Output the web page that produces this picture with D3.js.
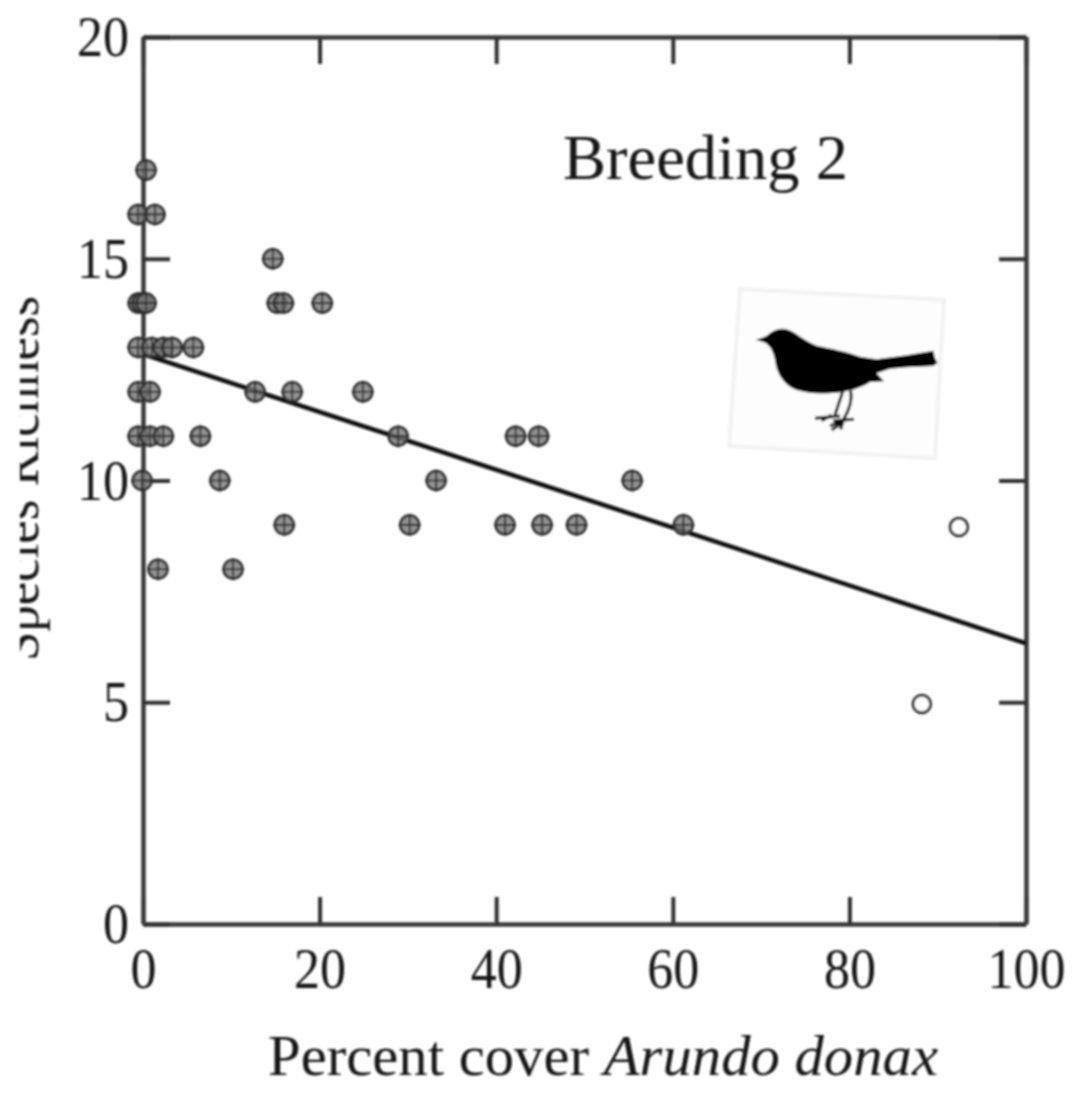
<!DOCTYPE html>
<html>
<head>
<meta charset="utf-8">
<script src="https://cdn.jsdelivr.net/npm/d3@7"></script>
<style>
  html, body { margin: 0; background: #fff; }
  text { font-family: "Liberation Serif", serif; fill: #141414; }
</style>
</head>
<body>
<div id="chart"></div>
<script>
// values
const coverFilled = [0.35, -0.55, 1.35, 14.7, -0.55, -0.1, 0.35, 15.2, 15.9, 20.3, -0.55, 1, 2.3, 3.3, 5.7, -0.55, 0.8, 12.7, 16.9, 24.9,
                     -0.55, 0.8, 2.3, 6.5, 28.9, 42.2, 44.8, -0.1, 8.7, 33.2, 55.4, 16, 30.2, 41, 45.2, 49.1, 61.2, 1.7, 10.2];
const richFilled  = [17, 16, 16, 15, 14, 14, 14, 14, 14, 14, 13, 13, 13, 13, 13, 12, 12, 12, 12, 12,
                     11, 11, 11, 11, 11, 11, 11, 10, 10, 10, 10, 9, 9, 9, 9, 9, 9, 8, 8];
const coverOpen = [92.4, 88.2];
const richOpen  = [8.95, 4.96];
const fitX = [0, 100];
const fitY = [12.85, 6.33];
const xTicks = [0, 20, 40, 60, 80, 100];
const yTicks = [0, 5, 10, 15, 20];

const width = 1076, height = 1095;
const margin = {top: 37, right: 50, bottom: 171, left: 143};

const svg = d3.select("#chart").append("svg")
    .attr("width", width)
    .attr("height", height)
    .style("display", "block");

// the reference is a soft scan
const defs = svg.append("defs");
defs.append("filter").attr("id", "soft")
    .append("feGaussianBlur").attr("stdDeviation", 0.8);
defs.append("filter").attr("id", "softer")
    .append("feGaussianBlur").attr("stdDeviation", 1.2);
defs.append("clipPath").attr("id", "labelClip")
    .append("rect").attr("x", 20).attr("y", 0).attr("width", 200).attr("height", height);

const root = svg.append("g").attr("filter", "url(#soft)");

let x = d3.scaleLinear().domain([0, 100]).range([margin.left, width - margin.right]);
let y = d3.scaleLinear().domain([0, 20]).range([height - margin.bottom, margin.top]);

// frame, ticks point inwards on all four sides
function styleAxis(g) {
    g.selectAll(".domain").attr("stroke", "#3a3a3a").attr("stroke-width", 4.5);
    g.selectAll(".tick line").attr("stroke", "#333").attr("stroke-width", 4);
    // digits are taller and narrower than the plain font
    g.selectAll(".tick text")
        .style("font-size", "58px")
        .attr("textLength", d => String(d).length * 26)
        .attr("lengthAdjust", "spacingAndGlyphs");
    g.attr("font-family", null);
}

root.append("g")
    .attr("transform", `translate(0, ${y(0)})`)
    .call(d3.axisBottom(x).tickValues(xTicks).tickSizeInner(-27).tickSizeOuter(0).tickPadding(23))
    .call(styleAxis);
root.append("g")
    .attr("transform", `translate(0, ${y(20)})`)
    .call(d3.axisTop(x).tickValues(xTicks).tickSizeInner(-27).tickSizeOuter(0).tickFormat(""))
    .call(styleAxis);
root.append("g")
    .attr("transform", `translate(${x(0)}, 0)`)
    .call(d3.axisLeft(y).tickValues(yTicks).tickSizeInner(-27).tickSizeOuter(0).tickPadding(14))
    .call(styleAxis);
root.append("g")
    .attr("transform", `translate(${x(100)}, 0)`)
    .call(d3.axisRight(y).tickValues(yTicks).tickSizeInner(-27).tickSizeOuter(0).tickFormat(""))
    .call(styleAxis);

// regression line
root.append("line")
    .attr("x1", x(fitX[0])).attr("y1", y(fitY[0]))
    .attr("x2", x(fitX[1])).attr("y2", y(fitY[1]))
    .attr("stroke", "#0c0c0c")
    .attr("stroke-width", 4.5);

// filled points with a cross through them
const filled = root.append("g").selectAll("g")
    .data(d3.range(coverFilled.length))
    .enter().append("g")
    .attr("transform", i => `translate(${x(coverFilled[i])}, ${y(richFilled[i])})`);
filled.append("circle")
    .attr("r", 9.5)
    .attr("fill", "#777")
    .attr("fill-opacity", 0.8)
    .attr("stroke", "#2e2e2e")
    .attr("stroke-width", 2.5);
filled.append("path")
    .attr("d", "M-11,0H11M0,-11V11")
    .attr("stroke", "#2a2a2a")
    .attr("stroke-width", 1.6);

// open points
root.append("g").selectAll("circle")
    .data(d3.range(coverOpen.length))
    .enter().append("circle")
    .attr("cx", i => x(coverOpen[i]))
    .attr("cy", i => y(richOpen[i]))
    .attr("r", 8.8)
    .attr("fill", "#fff")
    .attr("stroke", "#333")
    .attr("stroke-width", 3);

// panel title
root.append("text")
    .attr("x", 563).attr("y", 179)
    .attr("textLength", 285).attr("lengthAdjust", "spacingAndGlyphs")
    .style("font-size", "63px")
    .text("Breeding 2");

// x axis title
const xTitle = root.append("text")
    .attr("x", 268).attr("y", 1075)
    .attr("textLength", 670).attr("lengthAdjust", "spacingAndGlyphs")
    .style("font-size", "58px");
xTitle.append("tspan").text("Percent cover ");
xTitle.append("tspan").style("font-style", "italic").text("Arundo donax");

// y axis title, its left part is cut off in the reference
root.append("g").attr("clip-path", "url(#labelClip)")
    .append("text")
    .attr("transform", "translate(38, 661) rotate(-90)")
    .attr("textLength", 365).attr("lengthAdjust", "spacingAndGlyphs")
    .style("font-size", "54px")
    .text("Species Richness");

// bird picture, in a slightly tilted pale frame
const bird = root.append("g").attr("transform", "translate(720, 280) scale(0.3333)");
bird.append("path")
    .attr("d", "M60,27L672,60L645,535L27,498Z")
    .attr("fill", "#fdfdfd")
    .attr("stroke", "#f2f2f2")
    .attr("stroke-width", 12)
    .attr("filter", "url(#softer)");
bird.append("path")
    .attr("fill", "#000")
    .attr("d", "M108,180L140,168C158,150 180,143 200,148C225,155 250,182 290,197C330,205 380,215 420,230L470,238L560,226L640,212L645,235L653,248L640,258L560,262L510,266L470,280L492,304L450,306C430,320 400,330 385,332C340,342 280,345 230,330C190,315 170,280 165,240C160,210 145,190 130,186Z");
bird.append("path")
    .attr("fill", "none")
    .attr("stroke", "#111")
    .attr("stroke-width", 9)
    .attr("d", "M368,335L345,405M392,332C398,360 385,395 370,420L362,448M285,415L360,408M305,422L335,405M340,422L402,418M330,438L362,425M335,450L365,430");
</script>
</body>
</html>
